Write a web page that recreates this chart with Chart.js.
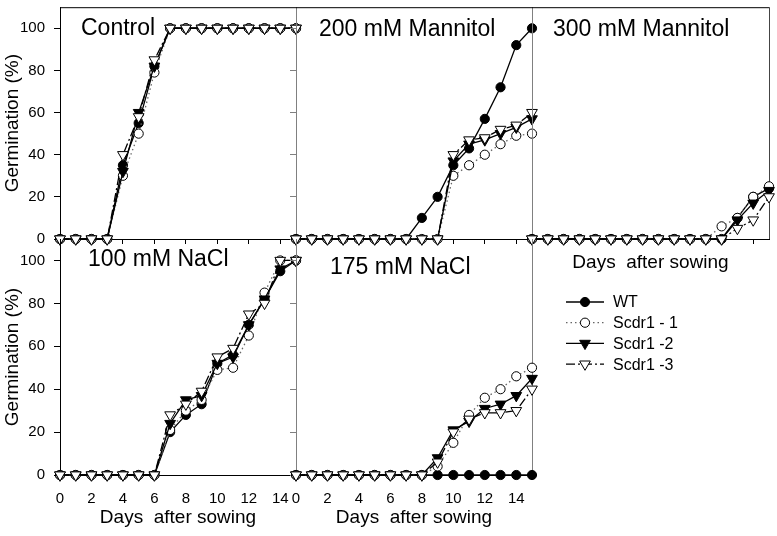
<!DOCTYPE html>
<html lang="en">
<head>
<meta charset="UTF-8">
<title>Germination after sowing</title>
<script src="https://cdn.jsdelivr.net/npm/chart.js"></script>
<style>
  body { margin: 0; background: #fff; }
  #wrap { position: relative; width: 777px; height: 536px; }
  #wrap canvas { position: absolute; left: 0; top: 0; }
</style>
</head>
<body>
<div id="wrap">
  <canvas id="c0" width="777" height="536"></canvas>
  <canvas id="c1" width="777" height="536"></canvas>
  <canvas id="c2" width="777" height="536"></canvas>
  <canvas id="c3" width="777" height="536"></canvas>
  <canvas id="c4" width="777" height="536"></canvas>
</div>
<script>
// ---- data ----
const days = [0, 1, 2, 3, 4, 5, 6, 7, 8, 9, 10, 11, 12, 13, 14, 15];
const dayTicks = [0, 2, 4, 6, 8, 10, 12, 14];
const pctTicks = [0, 20, 40, 60, 80, 100];
const seriesNames = ['WT', 'Scdr1 - 1', 'Scdr1 -2', 'Scdr1 -3'];

// Control
const controlWT = [0, 0, 0, 0, 35, 55, 82, 100, 100, 100, 100, 100, 100, 100, 100, 100];
const controlS1 = [0, 0, 0, 0, 30, 50, 79, 100, 100, 100, 100, 100, 100, 100, 100, 100];
const controlS2 = [0, 0, 0, 0, 32, 60, 82, 100, 100, 100, 100, 100, 100, 100, 100, 100];
const controlS3 = [0, 0, 0, 0, 40, 58, 85, 100, 100, 100, 100, 100, 100, 100, 100, 100];

// 200 mM Mannitol
const man200WT = [0, 0, 0, 0, 0, 0, 0, 0, 10, 20, 35, 43, 57, 72, 92, 100];
const man200S1 = [0, 0, 0, 0, 0, 0, 0, 0, 0, 0, 30, 35, 40, 45, 49, 50];
const man200S2 = [0, 0, 0, 0, 0, 0, 0, 0, 0, 0, 37, 45, 47, 50, 53, 57];
const man200S3 = [0, 0, 0, 0, 0, 0, 0, 0, 0, 0, 40, 47, 48, 52, 54, 60];

// 300 mM Mannitol
const man300WT = [0, 0, 0, 0, 0, 0, 0, 0, 0, 0, 0, 0, 0, 10, 20, 24];
const man300S1 = [0, 0, 0, 0, 0, 0, 0, 0, 0, 0, 0, 0, 6, 10, 20, 25];
const man300S2 = [0, 0, 0, 0, 0, 0, 0, 0, 0, 0, 0, 0, 0, 9, 17, 23];
const man300S3 = [0, 0, 0, 0, 0, 0, 0, 0, 0, 0, 0, 0, 0, 5, 9, 20];

// 100 mM NaCl
const nacl100WT = [0, 0, 0, 0, 0, 0, 0, 20, 28, 33, 52, 56, 70, 82, 95, 100];
const nacl100S1 = [0, 0, 0, 0, 0, 0, 0, 21, 30, 35, 49, 50, 65, 85, 100, 100];
const nacl100S2 = [0, 0, 0, 0, 0, 0, 0, 24, 35, 37, 52, 55, 70, 82, 96, 100];
const nacl100S3 = [0, 0, 0, 0, 0, 0, 0, 28, 33, 39, 55, 59, 75, 80, 100, 100];

// 175 mM NaCl
const nacl175WT = [0, 0, 0, 0, 0, 0, 0, 0, 0, 0, 0, 0, 0, 0, 0, 0];
const nacl175S1 = [0, 0, 0, 0, 0, 0, 0, 0, 0, 4, 15, 28, 36, 40, 46, 50];
const nacl175S2 = [0, 0, 0, 0, 0, 0, 0, 0, 0, 8, 21, 25, 31, 33, 37, 45];
const nacl175S3 = [0, 0, 0, 0, 0, 0, 0, 0, 0, 6, 20, 26, 29, 29, 30, 40];

// ---- styles ----
const FONT = '"Liberation Sans", Arial, sans-serif';
Chart.defaults.font.family = FONT;
Chart.defaults.color = '#000';
const GRAY = '#808080';
const W = 777, H = 536;

const seriesStyle = [
  { pointStyle: 'circle', radius: 4.6, rotation: 0, fill: '#000', line: '#000', dash: [], order: 4 },
  { pointStyle: 'circle', radius: 4.6, rotation: 0, fill: '#fff', line: '#666', dash: [1.5, 3], order: 3 },
  { pointStyle: 'triangle', radius: 6.2, rotation: 180, fill: '#000', line: '#000', dash: [], order: 2 },
  { pointStyle: 'triangle', radius: 6.2, rotation: 180, fill: '#fff', line: '#000', dash: [9, 3, 2, 3], order: 1 }
];

function makeDatasets(vals) {
  return vals.map((v, i) => {
    const s = seriesStyle[i];
    return {
      label: seriesNames[i],
      data: days.map((d, k) => ({ x: d, y: v[k] })),
      borderColor: s.line,
      borderWidth: 1.3,
      borderDash: s.dash,
      tension: 0,
      pointStyle: s.pointStyle,
      pointRotation: s.rotation,
      pointRadius: s.radius,
      pointBackgroundColor: s.fill,
      pointBorderColor: '#000',
      pointBorderWidth: 1,
      clip: false,
      order: s.order
    };
  });
}

// panel title text inside the plot
const panelLabel = {
  id: 'panelLabel',
  afterDraw(chart, args, opts) {
    const { ctx, chartArea } = chart;
    ctx.save();
    ctx.font = '23px ' + FONT;
    ctx.fillStyle = '#000';
    ctx.textBaseline = 'alphabetic';
    ctx.fillText(opts.text, chartArea.left + opts.dx, chartArea.top + opts.dy);
    ctx.restore();
  }
};

// top and right frame lines
const frame = {
  id: 'frame',
  beforeDatasetsDraw(chart, args, opts) {
    const { ctx, chartArea: a } = chart;
    ctx.save();
    ctx.lineWidth = 1;
    if (opts.top) {
      ctx.strokeStyle = opts.top;
      ctx.beginPath();
      ctx.moveTo(a.left, a.top + 0.5);
      ctx.lineTo(a.right, a.top + 0.5);
      ctx.stroke();
    }
    if (opts.right) {
      ctx.strokeStyle = opts.right;
      ctx.beginPath();
      ctx.moveTo(a.right + 0.5, a.top);
      ctx.lineTo(a.right + 0.5, a.bottom);
      ctx.stroke();
    }
    ctx.restore();
  }
};

// legend drawn below the 300 mM panel
const sideLegend = {
  id: 'sideLegend',
  afterDraw(chart, args, opts) {
    if (!opts.show) return;
    const ctx = chart.ctx;
    ctx.save();
    chart.data.datasets.forEach((ds, i) => {
      const y = 302 + i * 20.7;
      ctx.strokeStyle = ds.borderColor;
      ctx.lineWidth = 1.3;
      ctx.setLineDash(ds.borderDash);
      ctx.beginPath();
      ctx.moveTo(566, y);
      ctx.lineTo(604, y);
      ctx.stroke();
      ctx.setLineDash([]);
      ctx.fillStyle = ds.pointBackgroundColor;
      ctx.strokeStyle = '#000';
      ctx.lineWidth = 1;
      Chart.helpers.drawPoint(ctx, {
        pointStyle: ds.pointStyle, rotation: ds.pointRotation,
        radius: ds.pointRadius, borderWidth: 1
      }, 585, y);
      ctx.fillStyle = '#000';
      ctx.font = '16px ' + FONT;
      ctx.textBaseline = 'middle';
      ctx.fillText(ds.label, 613, y + 1);
    });
    ctx.restore();
  }
};

const panels = [
  { id: 'c0', text: 'Control', vals: [controlWT, controlS1, controlS2, controlS3],
    box: [60, 4, 296, 239], row: 0, first: true, dx: 21, dy: 28, top: '#000', right: GRAY },
  { id: 'c1', text: '200 mM Mannitol', vals: [man200WT, man200S1, man200S2, man200S3],
    box: [296, 4, 532, 239], row: 0, dx: 23, dy: 29, top: '#000', right: GRAY },
  { id: 'c2', text: '300 mM Mannitol', vals: [man300WT, man300S1, man300S2, man300S3],
    box: [532, 4, 769, 239], row: 0, dx: 21, dy: 29, top: '#000', right: '#444',
    xTitle: true, legend: true, noYTicks: true },
  { id: 'c3', text: '100 mM NaCl', vals: [nacl100WT, nacl100S1, nacl100S2, nacl100S3],
    box: [60, 239, 296, 475], row: 1, first: true, dx: 28, dy: 27, right: GRAY },
  { id: 'c4', text: '175 mM NaCl', vals: [nacl175WT, nacl175S1, nacl175S2, nacl175S3],
    box: [296, 239, 532, 475], row: 1, dx: 34, dy: 35, right: GRAY }
];

panels.forEach(p => {
  const [L, T, R, B] = p.box;
  const yW = p.first ? 60 : 10;
  const xH = p.row === 1 ? 54 : (p.xTitle ? 35 : 8);
  const axisCol = p.first ? '#000' : GRAY;

  new Chart(document.getElementById(p.id), {
    type: 'line',
    data: { datasets: makeDatasets(p.vals) },
    plugins: [frame, panelLabel, sideLegend],
    options: {
      responsive: false,
      animation: false,
      devicePixelRatio: 1,
      events: [],
      layout: { padding: { left: L - yW, top: T, right: W - R, bottom: H - B - xH } },
      plugins: {
        legend: { display: false },
        tooltip: { enabled: false },
        panelLabel: { text: p.text, dx: p.dx, dy: p.dy },
        frame: { top: p.top, right: p.right },
        sideLegend: { show: !!p.legend }
      },
      scales: {
        x: {
          type: 'linear', min: 0, max: 15,
          afterBuildTicks: s => { s.ticks = dayTicks.map(v => ({ value: v })); },
          afterFit: s => { s.height = xH; s.paddingLeft = 0; s.paddingRight = 0; },
          border: { display: true, color: '#000', width: 1 },
          grid: { drawOnChartArea: false, drawTicks: p.row === 0, tickLength: 5, color: '#000' },
          ticks: { display: p.row === 1, padding: 15, autoSkip: false, maxRotation: 0,
                   color: '#000', font: { size: 15 } },
          title: { display: p.row === 1 || !!p.xTitle, text: 'Days  after sowing', color: '#000',
                   font: { size: 19 }, padding: { top: 0, bottom: 0 } }
        },
        y: {
          type: 'linear', min: 0, max: 110,
          afterBuildTicks: s => { s.ticks = pctTicks.map(v => ({ value: v })); },
          afterFit: s => { s.width = yW; s.paddingTop = 0; s.paddingBottom = 0; },
          border: { display: true, color: axisCol, width: 1 },
          grid: { drawOnChartArea: false, drawTicks: !p.noYTicks, tickLength: 6, color: axisCol },
          ticks: { display: !!p.first, padding: 9, color: '#000', font: { size: 15 } },
          title: { display: !!p.first, text: 'Germination (%)', color: '#000',
                   font: { size: 19 }, padding: { top: 1, bottom: 0 } }
        }
      }
    }
  });
});
</script>
</body>
</html>
